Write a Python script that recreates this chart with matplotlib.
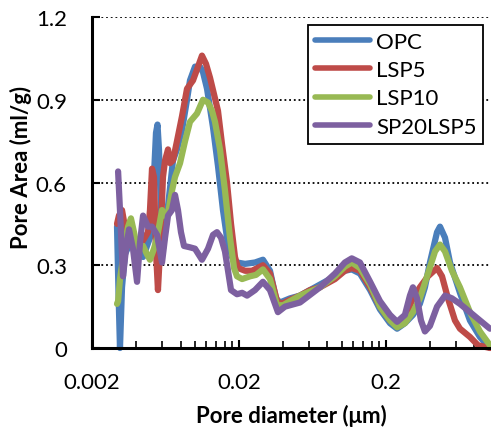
import numpy as np
import matplotlib
matplotlib.use("Agg")
import matplotlib.pyplot as plt
from matplotlib.ticker import FixedLocator, NullFormatter

plt.rcParams['font.family'] = ['Lato', 'DejaVu Sans']

# pore diameter (um) / pore area (ml/g)
opc_d = [0.00296, 0.00303, 0.00310, 0.00320, 0.00335, 0.00363, 0.00392, 0.00424, 0.00445, 0.00496,
         0.00520, 0.00545, 0.00558, 0.00571, 0.00589, 0.00608, 0.00637, 0.00679, 0.00711, 0.00757,
         0.00819, 0.00886, 0.00928, 0.01004, 0.01086, 0.01138, 0.01212, 0.01331, 0.01439, 0.01556,
         0.01657, 0.01792, 0.01938, 0.0220, 0.0257, 0.0291, 0.0325, 0.0357, 0.0380, 0.0445,
         0.0520, 0.0711, 0.0900, 0.105, 0.117, 0.133, 0.156, 0.182, 0.213, 0.238,
         0.269, 0.305, 0.340, 0.368, 0.398, 0.445, 0.466, 0.504, 0.545, 0.637,
         0.745, 0.871, 1.019]
opc_v = [0.44, 0.20, 0.0, 0.22, 0.34, 0.38, 0.36, 0.35, 0.33, 0.40,
         0.55, 0.78, 0.81, 0.72, 0.50, 0.36, 0.45, 0.58, 0.68, 0.72,
         0.79, 0.90, 0.97, 1.02, 1.02, 1.00, 0.94, 0.80, 0.66, 0.50,
         0.40, 0.33, 0.31, 0.305, 0.31, 0.32, 0.28, 0.18, 0.165, 0.18,
         0.19, 0.23, 0.26, 0.28, 0.285, 0.27, 0.21, 0.14, 0.09, 0.07,
         0.09, 0.12, 0.16, 0.22, 0.31, 0.42, 0.44, 0.40, 0.31, 0.20,
         0.10, 0.04, 0.0]

lsp5_d = [0.00296, 0.00305, 0.00320, 0.00335, 0.00352, 0.00374, 0.00405, 0.00445, 0.00481, 0.00496,
          0.00512, 0.00528, 0.00545, 0.00562, 0.00580, 0.00608, 0.00628, 0.00658, 0.00679, 0.00711,
          0.00757, 0.00819, 0.00886, 0.00973, 0.01036, 0.01120, 0.01193, 0.01270, 0.01352, 0.01439,
          0.01532, 0.01657, 0.01765, 0.01878, 0.0197, 0.0220, 0.0245, 0.0291, 0.0325, 0.0363,
          0.0392, 0.0445, 0.0520, 0.0608, 0.0711, 0.0900, 0.105, 0.117, 0.133, 0.156,
          0.182, 0.213, 0.238, 0.269, 0.305, 0.340, 0.386, 0.445, 0.481, 0.528,
          0.589, 0.637, 0.745, 0.845, 1.019]
lsp5_v = [0.45, 0.48, 0.50, 0.44, 0.40, 0.37, 0.36, 0.39, 0.42, 0.50,
          0.65, 0.62, 0.35, 0.21, 0.35, 0.62, 0.68, 0.72, 0.67, 0.68,
          0.75, 0.84, 0.94, 0.97, 1.01, 1.06, 1.03, 0.98, 0.92, 0.86,
          0.74, 0.60, 0.45, 0.33, 0.29, 0.28, 0.28, 0.30, 0.27, 0.17,
          0.16, 0.175, 0.19, 0.21, 0.22, 0.25, 0.28, 0.29, 0.28, 0.22,
          0.15, 0.10, 0.08, 0.11, 0.18, 0.22, 0.26, 0.29, 0.26, 0.18,
          0.10, 0.07, 0.04, 0.01, 0.0]

lsp10_d = [0.00296, 0.00301, 0.00310, 0.00320, 0.00335, 0.00352, 0.00368, 0.00386, 0.00405, 0.00424,
           0.00445, 0.00473, 0.00496, 0.00528, 0.00554, 0.00599, 0.00628, 0.00658, 0.00700, 0.00734,
           0.00794, 0.00859, 0.00928, 0.01036, 0.01138, 0.01231, 0.01310, 0.01373, 0.01485, 0.01606,
           0.01737, 0.0185, 0.01938, 0.0210, 0.0238, 0.0261, 0.0291, 0.0325, 0.0363, 0.0399,
           0.0445, 0.0520, 0.0711, 0.0900, 0.105, 0.117, 0.133, 0.156, 0.182, 0.213,
           0.238, 0.269, 0.305, 0.340, 0.386, 0.431, 0.466, 0.504, 0.562, 0.637,
           0.745, 0.871, 1.019]
lsp10_v = [0.16, 0.17, 0.25, 0.30, 0.38, 0.44, 0.47, 0.42, 0.36, 0.36,
           0.37, 0.34, 0.32, 0.36, 0.40, 0.50, 0.48, 0.49, 0.57, 0.62,
           0.67, 0.75, 0.82, 0.85, 0.90, 0.89, 0.86, 0.82, 0.72, 0.57,
           0.40, 0.29, 0.26, 0.25, 0.26, 0.265, 0.285, 0.25, 0.155, 0.155,
           0.17, 0.19, 0.22, 0.26, 0.295, 0.31, 0.29, 0.23, 0.15, 0.10,
           0.075, 0.09, 0.13, 0.18, 0.27, 0.35, 0.375, 0.35, 0.28, 0.22,
           0.13, 0.06, 0.01]

sp20_d = [0.00301, 0.00310, 0.00325, 0.00341, 0.00357, 0.00380, 0.00405, 0.00424, 0.00445, 0.00481,
          0.00512, 0.00554, 0.00599, 0.00628, 0.00658, 0.00700, 0.00734, 0.00769, 0.00806, 0.00845,
          0.00928, 0.01004, 0.01120, 0.01231, 0.01331, 0.01417, 0.01509, 0.01606, 0.01684, 0.01765,
          0.01938, 0.0210, 0.0227, 0.0257, 0.0291, 0.0325, 0.0368, 0.0411, 0.0520, 0.0711,
          0.0900, 0.105, 0.117, 0.133, 0.156, 0.182, 0.213, 0.238, 0.269, 0.291,
          0.305, 0.325, 0.346, 0.368, 0.398, 0.445, 0.504, 0.562, 0.637, 0.745,
          0.871, 1.019]
sp20_v = [0.64, 0.50, 0.26, 0.36, 0.43, 0.36, 0.24, 0.38, 0.48, 0.44,
          0.44, 0.41, 0.31, 0.40, 0.48, 0.50, 0.555, 0.50, 0.42, 0.37,
          0.365, 0.36, 0.32, 0.36, 0.41, 0.42, 0.40, 0.35, 0.28, 0.21,
          0.195, 0.20, 0.19, 0.21, 0.24, 0.21, 0.13, 0.15, 0.165, 0.22,
          0.27, 0.31, 0.325, 0.31, 0.24, 0.17, 0.12, 0.095, 0.12, 0.19,
          0.22, 0.18, 0.10, 0.06, 0.08, 0.15, 0.19, 0.18, 0.16, 0.13,
          0.10, 0.07]

series = [
    ("OPC", opc_d, opc_v, "#4a7ebb"),
    ("LSP5", lsp5_d, lsp5_v, "#be4b48"),
    ("LSP10", lsp10_d, lsp10_v, "#98b954"),
    ("SP20LSP5", sp20_d, sp20_v, "#7d60a0"),
]

fig = plt.figure(figsize=(4.91, 4.31), dpi=100)
ax = fig.add_axes([92 / 491, 82 / 431, 1 - 92 / 491, 331 / 431])

for name, d, v, c in series:
    ax.plot(d, v, color=c, lw=4.5, label=name, solid_joinstyle="round",
            solid_capstyle="round", clip_on=False, zorder=3)

ax.set_xscale("log")
ax.set_xlim(0.002, 1.036)
ax.set_ylim(0, 1.2)

ax.xaxis.set_major_locator(FixedLocator([0.002, 0.02, 0.2]))
ax.xaxis.set_major_formatter(plt.FixedFormatter(["0.002", "0.02", "0.2"]))
minors = [0.002 * k * 10 ** e for e in range(3) for k in range(2, 10)]
ax.xaxis.set_minor_locator(FixedLocator(minors))
ax.xaxis.set_minor_formatter(NullFormatter())

ax.set_yticks([0, 0.3, 0.6, 0.9, 1.2])
ax.set_yticklabels(["0", "0.3", "0.6", "0.9", "1.2"])

ax.tick_params(axis="both", which="major", direction="in", length=6, width=1.5,
               labelsize=16, color="black")
ax.tick_params(axis="x", which="major", pad=17)
ax.tick_params(axis="y", which="major", pad=18)
ax.tick_params(axis="x", which="minor", direction="in", length=5, width=1.2)

ax.grid(True, axis="y", color="black", linestyle=(0, (1, 1.6)), linewidth=1.3)
ax.spines["top"].set_visible(False)
ax.spines["right"].set_visible(False)
for s in ("left", "bottom"):
    ax.spines[s].set_linewidth(2.2)
    ax.spines[s].set_zorder(4)

ax.set_xlabel("Pore diameter (\u03bcm)", fontsize=16, fontweight="bold")
ax.set_ylabel("Pore Area (ml/g)", fontsize=16, fontweight="bold")
ax.xaxis.set_label_coords(0.5, -0.17)
ax.yaxis.set_label_coords(-0.15, 0.55)

leg = ax.legend(loc="upper right", bbox_to_anchor=(0.98, 0.976), fontsize=16,
                frameon=True, fancybox=False, edgecolor="black", framealpha=1,
                handlelength=2.5, handletextpad=0.25, labelspacing=0.38,
                borderpad=0.3, borderaxespad=0)
leg.get_frame().set_linewidth(1.3)
for h in leg.get_lines():
    h.set_linewidth(4)

fig.savefig("out.png", dpi=100)
